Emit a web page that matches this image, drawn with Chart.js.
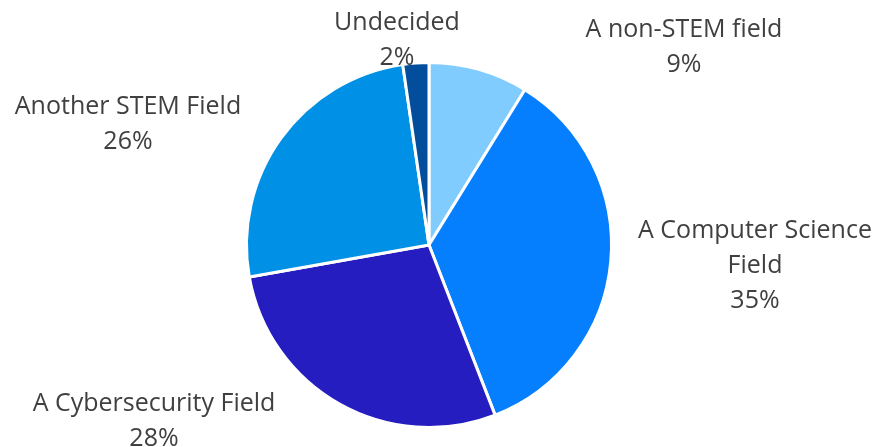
<!DOCTYPE html>
<html>
<head>
<meta charset="utf-8">
<script src="https://cdn.jsdelivr.net/npm/chart.js@4"></script>
<style>
  html, body { margin: 0; padding: 0; background: #fff; }
  #wrap { width: 879px; height: 447px; }
</style>
</head>
<body>
<div id="wrap"><canvas id="myChart"></canvas></div>
<script>
// slices in clockwise order from 12 o'clock
const categories = [
  ["A non-STEM field"],
  ["A Computer Science", "Field"],
  ["A Cybersecurity Field"],
  ["Another STEM Field"],
  ["Undecided"],
];
const shares = [8.8, 35.3, 28.1, 25.5, 2.3];
const sliceColors = ["#80ccff", "#067fff", "#251dbf", "#0090e6", "#034e9c"];

// where each label block sits, relative to the pie centre
const labelOffsets = [
  [255, -198],
  [326, 21],
  [-275, 176],
  [-301, -121],
  [-32, -205],
];

const labelPlugin = {
  id: "outsideLabels",
  afterDraw(chart) {
    const ctx = chart.ctx;
    const arcs = chart.getDatasetMeta(0).data;
    ctx.save();
    ctx.font = '25px "Open Sans", sans-serif';
    ctx.fillStyle = "#404040";
    ctx.textAlign = "center";
    ctx.textBaseline = "middle";
    const lineH = 35;
    arcs.forEach((arc, i) => {
      const lines = categories[i].concat([Math.round(shares[i]) + "%"]);
      const cx = arc.x + labelOffsets[i][0];
      const cy = arc.y + labelOffsets[i][1];
      const top = cy - ((lines.length - 1) * lineH) / 2;
      lines.forEach((t, j) => ctx.fillText(t, cx, top + j * lineH));
    });
    ctx.restore();
  },
};

const config = {
  type: "pie",
  data: {
    labels: categories.map((c) => c.join(" ")),
    datasets: [
      {
        data: shares,
        backgroundColor: sliceColors,
        borderColor: "#ffffff",
        borderWidth: 3,
      },
    ],
  },
  options: {
    responsive: true,
    maintainAspectRatio: false,
    animation: false,
    layout: { padding: { top: 61, bottom: 18, left: 245, right: 266 } },
    plugins: { legend: { display: false }, tooltip: { enabled: false } },
  },
  plugins: [labelPlugin],
};

let myChart = new Chart(document.getElementById("myChart"), config);
</script>
</body>
</html>
